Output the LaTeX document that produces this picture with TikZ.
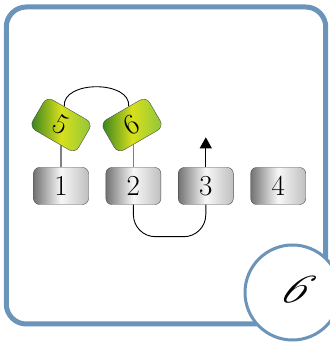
\documentclass[tikz,border=0pt]{standalone}
\usetikzlibrary{arrows.meta,positioning,backgrounds}
\definecolor{frameblue}{HTML}{6A94BA}
\definecolor{leafdark}{HTML}{2E7D1F}
\definecolor{leafyellow}{HTML}{D8E01C}
\definecolor{leaflight}{HTML}{8CC43C}

\begin{document}
\begin{tikzpicture}[x=1pt, y=1pt,
  slot/.style={draw=black!70, rounded corners=6pt, minimum width=55pt,
    minimum height=37pt, inner sep=0pt, left color=black!55,
    right color=black!25, middle color=black!3,
    font=\fontsize{29}{32}\selectfont},
  leaf/.style={draw=black!70, rounded corners=7pt, minimum width=53pt,
    minimum height=35pt, inner sep=0pt, left color=leafdark,
    right color=leaflight, middle color=leafyellow,
    font=\fontsize{29}{32}\selectfont},
  stem/.style={draw=black!50, line width=1.2pt},
  link/.style={draw=black, line width=0.9pt},
  arr/.style={link, -{Triangle[length=11pt,width=12pt]}},
  node distance=17pt
]
\useasboundingbox (0,0) rectangle (329,345);

% frame and corner badge
\draw[frameblue, line width=5pt, rounded corners=20pt] (6.3,21) rectangle (325.7,338);
\node[circle, draw=frameblue, line width=3pt, fill=white, minimum size=95pt] (badge) at (292.5,52.5) {};
\node[font=\itshape\fontsize{40}{44}\selectfont, xslant=0.5, xscale=1.25] (tag) at (295,55) {6};

% row of slots
\node[slot] (s1) at (61,159) {1};
\node[slot, right=of s1] (s2) {2};
\node[slot, right=of s2] (s3) {3};
\node[slot, right=of s3] (s4) {4};

% tilted pair on top
\node[leaf, rotate=-30] (l5) at (61,220) {5};
\node[leaf, rotate=30]  (l6) at (132,220) {6};

\begin{scope}[on background layer]
  \draw[stem] (s1.north) -- (s1.north |- l5.center);
  \draw[stem] (s2.north) -- (s2.north |- l6.center);
  \draw[link] (l5.110) to[out=95, in=85, looseness=1.05] (l6.70);
\end{scope}

\draw[link, rounded corners=22pt] (s2.south) -- ++(0,-32) -| (s3.south);
\coordinate[above=30pt of s3.north] (tip);
\draw[arr] (s3.north) -- (tip);
\end{tikzpicture}
\end{document}
